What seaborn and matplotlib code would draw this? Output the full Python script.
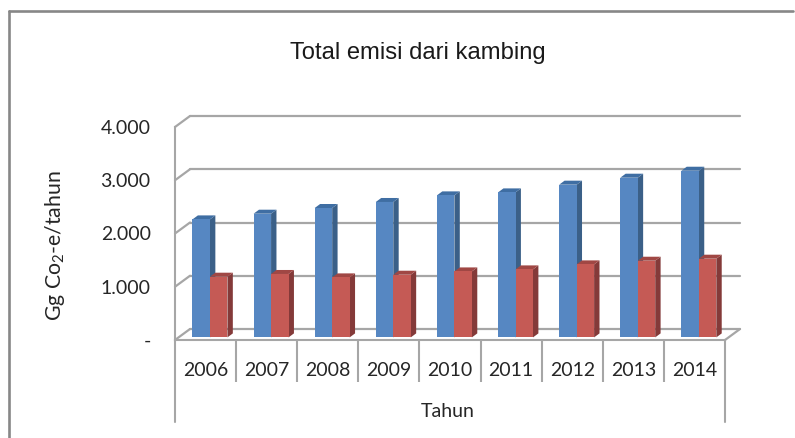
import matplotlib
matplotlib.use("Agg")
import matplotlib.pyplot as plt
from matplotlib.lines import Line2D
from matplotlib.patches import Polygon
from matplotlib.transforms import Affine2D
import seaborn as sns
import pandas as pd

years = ["2006", "2007", "2008", "2009", "2010", "2011", "2012", "2013", "2014"]
series_a = [2216, 2323, 2430, 2543, 2667, 2723, 2868, 2999, 3130]
series_b = [1140, 1191, 1127, 1177, 1239, 1277, 1371, 1440, 1478]
y_ticks = [0, 1000, 2000, 3000, 4000]
y_labels = ["-", "1.000", "2.000", "3.000", "4.000"]

W, H = 795, 438
LINE = "#a6a6a6"
TEXT = "#262626"
# face, side, top colours of the fake 3d bars
COLORS = {"a": ("#5687c2", "#3b6088", "#3f6ea3"), "b": ("#c55a55", "#843a39", "#a04744")}

sns.set_theme(style="white")
plt.rcParams["font.family"] = ["Lato", "DejaVu Sans"]
plt.rcParams["mathtext.default"] = "regular"

df = pd.DataFrame({
    "year": years * 2,
    "value": series_a + series_b,
    "series": ["a"] * len(years) + ["b"] * len(years),
})

fig = plt.figure(figsize=(W / 100, H / 100), dpi=100, facecolor="white")
ax = fig.add_axes([175 / W, 98 / H, 550 / W, 213 / H])
ax.patch.set_alpha(0)

sns.barplot(data=df, x="year", y="value", hue="series", hue_order=["a", "b"],
            palette={k: v[0] for k, v in COLORS.items()}, saturation=1,
            width=0.572, gap=0, legend=False, ax=ax, zorder=3, linewidth=0)
ax.set_xlim(-0.5, 8.5)
ax.set_ylim(0, 4000)

for side in ["top", "right"]:
    ax.spines[side].set_visible(False)
for side in ["left", "bottom"]:
    ax.spines[side].set_color(LINE)
    ax.spines[side].set_linewidth(1.5)

ax.set_yticks(y_ticks, y_labels)
ax.tick_params(axis="y", length=0, pad=17.5, labelsize=14, labelcolor=TEXT)
ax.set_xticks(range(len(years)), years)
ax.tick_params(axis="x", which="major", length=0, pad=16, labelsize=14, labelcolor=TEXT)
ax.set_xticks([i + 0.5 for i in range(len(years) - 1)], minor=True)
ax.tick_params(axis="x", which="minor", bottom=True, length=30, width=1.5, color=LINE, direction="out")
ax.set_xlabel("Tahun", fontsize=14, color=TEXT)
ax.xaxis.set_label_coords(0.496, -63 / 213)
ax.set_ylabel("Gg Co$_2$-e/tahun", fontsize=15.3, color=TEXT)
ax.yaxis.set_label_coords(-108 / 550, 0.445)

fig.suptitle("Total emisi dari kambing", x=418 / W, y=1 - 53 / H, va="center",
             fontsize=17.1, color="#1a1a1a", family=["Liberation Sans"])

# back wall grid, shifted up and right from the front plane
DEPTH_X, DEPTH_Y = 15, 11
back = ax.transData + Affine2D().translate(DEPTH_X, DEPTH_Y)
for t in y_ticks:
    ax.plot([-0.5, 8.5], [t, t], transform=back, color=LINE, lw=1.6, zorder=1, clip_on=False)
    ax.plot([-0.5, -0.5 + DEPTH_X * 9 / 550], [t, t + DEPTH_Y * 4000 / 213], color=LINE, lw=1.6,
            zorder=1, clip_on=False)
ax.plot([8.5, 8.5 + DEPTH_X * 9 / 550], [0, DEPTH_Y * 4000 / 213], color=LINE, lw=1.6,
        zorder=1, clip_on=False)

# long outer separators under the axis
drop = ax.get_xaxis_transform()
for x in [-0.5, 8.5]:
    ax.plot([x, x], [0, -82 / 213], transform=drop, color=LINE, lw=1.5, clip_on=False)

# bar faces sit a little inside the floor, add the side and top faces
BAR_X, BAR_Y = 4.4, 2.6
FACE_X, FACE_Y = 5.4, 4
shift = ax.transData + Affine2D().translate(BAR_X, BAR_Y)
for level, (key, container) in enumerate(zip(["a", "b"], ax.containers)):
    _, side_c, top_c = COLORS[key]
    for bar in container:
        bar.set_transform(shift)
        bar.set_zorder(3 + 2 * level)
        (x0, y0), (x1, y1) = shift.transform([(bar.get_x(), 0), (bar.get_x() + bar.get_width(), bar.get_height())])
        side_pts = [(x1, y0), (x1 + FACE_X, y0 + FACE_Y), (x1 + FACE_X, y1 + FACE_Y), (x1, y1)]
        top_pts = [(x0, y1), (x1, y1), (x1 + FACE_X, y1 + FACE_Y), (x0 + FACE_X, y1 + FACE_Y)]
        for pts, c in [(side_pts, side_c), (top_pts, top_c)]:
            ax.add_patch(Polygon(pts, closed=True, transform=Affine2D(), facecolor=c, edgecolor="none",
                                 zorder=2 + 2 * level, clip_on=False))

# outer frame, cut off on the right and at the bottom
frame = dict(color="#878787", lw=1.9, transform=fig.transFigure)
fig.add_artist(Line2D([8.5 / W, 8.5 / W], [0, 1 - 11 / H], **frame))
fig.add_artist(Line2D([8.5 / W, 793 / W], [1 - 11 / H, 1 - 11 / H], **frame))

fig.savefig("out.png", dpi=100)
plt.close(fig)
